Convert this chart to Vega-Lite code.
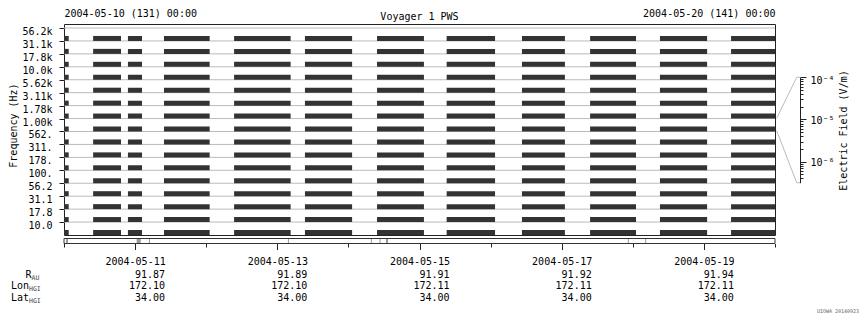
{
"$schema": "https://vega.github.io/schema/vega-lite/v6.json",
"width": 711, "height": 211,
"autosize": {"type": "none"},
"padding": {"left": 64, "top": 24, "right": 85, "bottom": 85},
"background": "white",
"config": {
 "font": "DejaVu Sans Mono",
 "view": {"stroke": "#222222", "strokeWidth": 1},
 "axis": {"labelFont": "DejaVu Sans Mono", "labelFontSize": 10, "labelColor": "#000000", "titleFont": "DejaVu Sans Mono", "titleFontSize": 10, "titleFontWeight": "normal", "titleColor": "#000000", "tickColor": "#222222", "domainColor": "#222222", "grid": false},
 "text": {"font": "DejaVu Sans Mono", "fontSize": 10, "color": "#000000"}
},
"title": {"text": "Voyager 1 PWS", "font": "DejaVu Sans Mono", "fontSize": 10, "fontWeight": "normal", "anchor": "middle", "frame": "group", "offset": -14, "color": "#000000"},
"datasets": {
 "channels": [{"ch":"56.2k"},{"ch":"31.1k"},{"ch":"17.8k"},{"ch":"10.0k"},{"ch":"5.62k"},{"ch":"3.11k"},{"ch":"1.78k"},{"ch":"1.00k"},{"ch":"562."},{"ch":"311."},{"ch":"178."},{"ch":"100."},{"ch":"56.2"},{"ch":"31.1"},{"ch":"17.8"},{"ch":"10.0"}],
 "bars": [
{"c":"56.2k","s":"2004-05-10T00:00Z","e":"2004-05-10T01:35Z"},{"c":"56.2k","s":"2004-05-10T09:50Z","e":"2004-05-10T19:15Z"},{"c":"56.2k","s":"2004-05-10T21:35Z","e":"2004-05-11T02:20Z"},{"c":"56.2k","s":"2004-05-11T09:45Z","e":"2004-05-12T01:10Z"},{"c":"56.2k","s":"2004-05-12T09:25Z","e":"2004-05-13T04:30Z"},{"c":"56.2k","s":"2004-05-13T09:20Z","e":"2004-05-14T01:15Z"},{"c":"56.2k","s":"2004-05-14T09:40Z","e":"2004-05-15T01:30Z"},{"c":"56.2k","s":"2004-05-15T09:10Z","e":"2004-05-16T01:30Z"},{"c":"56.2k","s":"2004-05-16T10:35Z","e":"2004-05-17T01:05Z"},{"c":"56.2k","s":"2004-05-17T09:35Z","e":"2004-05-18T01:05Z"},{"c":"56.2k","s":"2004-05-18T09:10Z","e":"2004-05-19T01:05Z"},{"c":"56.2k","s":"2004-05-19T09:10Z","e":"2004-05-20T00:00Z"},
{"c":"31.1k","s":"2004-05-10T00:00Z","e":"2004-05-10T01:35Z"},{"c":"31.1k","s":"2004-05-10T09:50Z","e":"2004-05-10T19:15Z"},{"c":"31.1k","s":"2004-05-10T21:35Z","e":"2004-05-11T02:20Z"},{"c":"31.1k","s":"2004-05-11T09:45Z","e":"2004-05-12T01:10Z"},{"c":"31.1k","s":"2004-05-12T09:25Z","e":"2004-05-13T04:30Z"},{"c":"31.1k","s":"2004-05-13T09:20Z","e":"2004-05-14T01:15Z"},{"c":"31.1k","s":"2004-05-14T09:40Z","e":"2004-05-15T01:30Z"},{"c":"31.1k","s":"2004-05-15T09:10Z","e":"2004-05-16T01:30Z"},{"c":"31.1k","s":"2004-05-16T10:35Z","e":"2004-05-17T01:05Z"},{"c":"31.1k","s":"2004-05-17T09:35Z","e":"2004-05-18T01:05Z"},{"c":"31.1k","s":"2004-05-18T09:10Z","e":"2004-05-19T01:05Z"},{"c":"31.1k","s":"2004-05-19T09:10Z","e":"2004-05-20T00:00Z"},
{"c":"17.8k","s":"2004-05-10T00:00Z","e":"2004-05-10T01:35Z"},{"c":"17.8k","s":"2004-05-10T09:50Z","e":"2004-05-10T19:15Z"},{"c":"17.8k","s":"2004-05-10T21:35Z","e":"2004-05-11T02:20Z"},{"c":"17.8k","s":"2004-05-11T09:45Z","e":"2004-05-12T01:10Z"},{"c":"17.8k","s":"2004-05-12T09:25Z","e":"2004-05-13T04:30Z"},{"c":"17.8k","s":"2004-05-13T09:20Z","e":"2004-05-14T01:15Z"},{"c":"17.8k","s":"2004-05-14T09:40Z","e":"2004-05-15T01:30Z"},{"c":"17.8k","s":"2004-05-15T09:10Z","e":"2004-05-16T01:30Z"},{"c":"17.8k","s":"2004-05-16T10:35Z","e":"2004-05-17T01:05Z"},{"c":"17.8k","s":"2004-05-17T09:35Z","e":"2004-05-18T01:05Z"},{"c":"17.8k","s":"2004-05-18T09:10Z","e":"2004-05-19T01:05Z"},{"c":"17.8k","s":"2004-05-19T09:10Z","e":"2004-05-20T00:00Z"},
{"c":"10.0k","s":"2004-05-10T00:00Z","e":"2004-05-10T01:35Z"},{"c":"10.0k","s":"2004-05-10T09:50Z","e":"2004-05-10T19:15Z"},{"c":"10.0k","s":"2004-05-10T21:35Z","e":"2004-05-11T02:20Z"},{"c":"10.0k","s":"2004-05-11T09:45Z","e":"2004-05-12T01:10Z"},{"c":"10.0k","s":"2004-05-12T09:25Z","e":"2004-05-13T04:30Z"},{"c":"10.0k","s":"2004-05-13T09:20Z","e":"2004-05-14T01:15Z"},{"c":"10.0k","s":"2004-05-14T09:40Z","e":"2004-05-15T01:30Z"},{"c":"10.0k","s":"2004-05-15T09:10Z","e":"2004-05-16T01:30Z"},{"c":"10.0k","s":"2004-05-16T10:35Z","e":"2004-05-17T01:05Z"},{"c":"10.0k","s":"2004-05-17T09:35Z","e":"2004-05-18T01:05Z"},{"c":"10.0k","s":"2004-05-18T09:10Z","e":"2004-05-19T01:05Z"},{"c":"10.0k","s":"2004-05-19T09:10Z","e":"2004-05-20T00:00Z"},
{"c":"5.62k","s":"2004-05-10T00:00Z","e":"2004-05-10T01:35Z"},{"c":"5.62k","s":"2004-05-10T09:50Z","e":"2004-05-10T19:15Z"},{"c":"5.62k","s":"2004-05-10T21:35Z","e":"2004-05-11T02:20Z"},{"c":"5.62k","s":"2004-05-11T09:45Z","e":"2004-05-12T01:10Z"},{"c":"5.62k","s":"2004-05-12T09:25Z","e":"2004-05-13T04:30Z"},{"c":"5.62k","s":"2004-05-13T09:20Z","e":"2004-05-14T01:15Z"},{"c":"5.62k","s":"2004-05-14T09:40Z","e":"2004-05-15T01:30Z"},{"c":"5.62k","s":"2004-05-15T09:10Z","e":"2004-05-16T01:30Z"},{"c":"5.62k","s":"2004-05-16T10:35Z","e":"2004-05-17T01:05Z"},{"c":"5.62k","s":"2004-05-17T09:35Z","e":"2004-05-18T01:05Z"},{"c":"5.62k","s":"2004-05-18T09:10Z","e":"2004-05-19T01:05Z"},{"c":"5.62k","s":"2004-05-19T09:10Z","e":"2004-05-20T00:00Z"},
{"c":"3.11k","s":"2004-05-10T00:00Z","e":"2004-05-10T01:35Z"},{"c":"3.11k","s":"2004-05-10T09:50Z","e":"2004-05-10T19:15Z"},{"c":"3.11k","s":"2004-05-10T21:35Z","e":"2004-05-11T02:20Z"},{"c":"3.11k","s":"2004-05-11T09:45Z","e":"2004-05-12T01:10Z"},{"c":"3.11k","s":"2004-05-12T09:25Z","e":"2004-05-13T04:30Z"},{"c":"3.11k","s":"2004-05-13T09:20Z","e":"2004-05-14T01:15Z"},{"c":"3.11k","s":"2004-05-14T09:40Z","e":"2004-05-15T01:30Z"},{"c":"3.11k","s":"2004-05-15T09:10Z","e":"2004-05-16T01:30Z"},{"c":"3.11k","s":"2004-05-16T10:35Z","e":"2004-05-17T01:05Z"},{"c":"3.11k","s":"2004-05-17T09:35Z","e":"2004-05-18T01:05Z"},{"c":"3.11k","s":"2004-05-18T09:10Z","e":"2004-05-19T01:05Z"},{"c":"3.11k","s":"2004-05-19T09:10Z","e":"2004-05-20T00:00Z"},
{"c":"1.78k","s":"2004-05-10T00:00Z","e":"2004-05-10T01:35Z"},{"c":"1.78k","s":"2004-05-10T09:50Z","e":"2004-05-10T19:15Z"},{"c":"1.78k","s":"2004-05-10T21:35Z","e":"2004-05-11T02:20Z"},{"c":"1.78k","s":"2004-05-11T09:45Z","e":"2004-05-12T01:10Z"},{"c":"1.78k","s":"2004-05-12T09:25Z","e":"2004-05-13T04:30Z"},{"c":"1.78k","s":"2004-05-13T09:20Z","e":"2004-05-14T01:15Z"},{"c":"1.78k","s":"2004-05-14T09:40Z","e":"2004-05-15T01:30Z"},{"c":"1.78k","s":"2004-05-15T09:10Z","e":"2004-05-16T01:30Z"},{"c":"1.78k","s":"2004-05-16T10:35Z","e":"2004-05-17T01:05Z"},{"c":"1.78k","s":"2004-05-17T09:35Z","e":"2004-05-18T01:05Z"},{"c":"1.78k","s":"2004-05-18T09:10Z","e":"2004-05-19T01:05Z"},{"c":"1.78k","s":"2004-05-19T09:10Z","e":"2004-05-20T00:00Z"},
{"c":"1.00k","s":"2004-05-10T00:00Z","e":"2004-05-10T01:35Z"},{"c":"1.00k","s":"2004-05-10T09:50Z","e":"2004-05-10T19:15Z"},{"c":"1.00k","s":"2004-05-10T21:35Z","e":"2004-05-11T02:20Z"},{"c":"1.00k","s":"2004-05-11T09:45Z","e":"2004-05-12T01:10Z"},{"c":"1.00k","s":"2004-05-12T09:25Z","e":"2004-05-13T04:30Z"},{"c":"1.00k","s":"2004-05-13T09:20Z","e":"2004-05-14T01:15Z"},{"c":"1.00k","s":"2004-05-14T09:40Z","e":"2004-05-15T01:30Z"},{"c":"1.00k","s":"2004-05-15T09:10Z","e":"2004-05-16T01:30Z"},{"c":"1.00k","s":"2004-05-16T10:35Z","e":"2004-05-17T01:05Z"},{"c":"1.00k","s":"2004-05-17T09:35Z","e":"2004-05-18T01:05Z"},{"c":"1.00k","s":"2004-05-18T09:10Z","e":"2004-05-19T01:05Z"},{"c":"1.00k","s":"2004-05-19T09:10Z","e":"2004-05-20T00:00Z"},
{"c":"562.","s":"2004-05-10T00:00Z","e":"2004-05-10T01:35Z"},{"c":"562.","s":"2004-05-10T09:50Z","e":"2004-05-10T19:15Z"},{"c":"562.","s":"2004-05-10T21:35Z","e":"2004-05-11T02:20Z"},{"c":"562.","s":"2004-05-11T09:45Z","e":"2004-05-12T01:10Z"},{"c":"562.","s":"2004-05-12T09:25Z","e":"2004-05-13T04:30Z"},{"c":"562.","s":"2004-05-13T09:20Z","e":"2004-05-14T01:15Z"},{"c":"562.","s":"2004-05-14T09:40Z","e":"2004-05-15T01:30Z"},{"c":"562.","s":"2004-05-15T09:10Z","e":"2004-05-16T01:30Z"},{"c":"562.","s":"2004-05-16T10:35Z","e":"2004-05-17T01:05Z"},{"c":"562.","s":"2004-05-17T09:35Z","e":"2004-05-18T01:05Z"},{"c":"562.","s":"2004-05-18T09:10Z","e":"2004-05-19T01:05Z"},{"c":"562.","s":"2004-05-19T09:10Z","e":"2004-05-20T00:00Z"},
{"c":"311.","s":"2004-05-10T00:00Z","e":"2004-05-10T01:35Z"},{"c":"311.","s":"2004-05-10T09:50Z","e":"2004-05-10T19:15Z"},{"c":"311.","s":"2004-05-10T21:35Z","e":"2004-05-11T02:20Z"},{"c":"311.","s":"2004-05-11T09:45Z","e":"2004-05-12T01:10Z"},{"c":"311.","s":"2004-05-12T09:25Z","e":"2004-05-13T04:30Z"},{"c":"311.","s":"2004-05-13T09:20Z","e":"2004-05-14T01:15Z"},{"c":"311.","s":"2004-05-14T09:40Z","e":"2004-05-15T01:30Z"},{"c":"311.","s":"2004-05-15T09:10Z","e":"2004-05-16T01:30Z"},{"c":"311.","s":"2004-05-16T10:35Z","e":"2004-05-17T01:05Z"},{"c":"311.","s":"2004-05-17T09:35Z","e":"2004-05-18T01:05Z"},{"c":"311.","s":"2004-05-18T09:10Z","e":"2004-05-19T01:05Z"},{"c":"311.","s":"2004-05-19T09:10Z","e":"2004-05-20T00:00Z"},
{"c":"178.","s":"2004-05-10T00:00Z","e":"2004-05-10T01:35Z"},{"c":"178.","s":"2004-05-10T09:50Z","e":"2004-05-10T19:15Z"},{"c":"178.","s":"2004-05-10T21:35Z","e":"2004-05-11T02:20Z"},{"c":"178.","s":"2004-05-11T09:45Z","e":"2004-05-12T01:10Z"},{"c":"178.","s":"2004-05-12T09:25Z","e":"2004-05-13T04:30Z"},{"c":"178.","s":"2004-05-13T09:20Z","e":"2004-05-14T01:15Z"},{"c":"178.","s":"2004-05-14T09:40Z","e":"2004-05-15T01:30Z"},{"c":"178.","s":"2004-05-15T09:10Z","e":"2004-05-16T01:30Z"},{"c":"178.","s":"2004-05-16T10:35Z","e":"2004-05-17T01:05Z"},{"c":"178.","s":"2004-05-17T09:35Z","e":"2004-05-18T01:05Z"},{"c":"178.","s":"2004-05-18T09:10Z","e":"2004-05-19T01:05Z"},{"c":"178.","s":"2004-05-19T09:10Z","e":"2004-05-20T00:00Z"},
{"c":"100.","s":"2004-05-10T00:00Z","e":"2004-05-10T01:35Z"},{"c":"100.","s":"2004-05-10T09:50Z","e":"2004-05-10T19:15Z"},{"c":"100.","s":"2004-05-10T21:35Z","e":"2004-05-11T02:20Z"},{"c":"100.","s":"2004-05-11T09:45Z","e":"2004-05-12T01:10Z"},{"c":"100.","s":"2004-05-12T09:25Z","e":"2004-05-13T04:30Z"},{"c":"100.","s":"2004-05-13T09:20Z","e":"2004-05-14T01:15Z"},{"c":"100.","s":"2004-05-14T09:40Z","e":"2004-05-15T01:30Z"},{"c":"100.","s":"2004-05-15T09:10Z","e":"2004-05-16T01:30Z"},{"c":"100.","s":"2004-05-16T10:35Z","e":"2004-05-17T01:05Z"},{"c":"100.","s":"2004-05-17T09:35Z","e":"2004-05-18T01:05Z"},{"c":"100.","s":"2004-05-18T09:10Z","e":"2004-05-19T01:05Z"},{"c":"100.","s":"2004-05-19T09:10Z","e":"2004-05-20T00:00Z"},
{"c":"56.2","s":"2004-05-10T00:00Z","e":"2004-05-10T01:35Z"},{"c":"56.2","s":"2004-05-10T09:50Z","e":"2004-05-10T19:15Z"},{"c":"56.2","s":"2004-05-10T21:35Z","e":"2004-05-11T02:20Z"},{"c":"56.2","s":"2004-05-11T09:45Z","e":"2004-05-12T01:10Z"},{"c":"56.2","s":"2004-05-12T09:25Z","e":"2004-05-13T04:30Z"},{"c":"56.2","s":"2004-05-13T09:20Z","e":"2004-05-14T01:15Z"},{"c":"56.2","s":"2004-05-14T09:40Z","e":"2004-05-15T01:30Z"},{"c":"56.2","s":"2004-05-15T09:10Z","e":"2004-05-16T01:30Z"},{"c":"56.2","s":"2004-05-16T10:35Z","e":"2004-05-17T01:05Z"},{"c":"56.2","s":"2004-05-17T09:35Z","e":"2004-05-18T01:05Z"},{"c":"56.2","s":"2004-05-18T09:10Z","e":"2004-05-19T01:05Z"},{"c":"56.2","s":"2004-05-19T09:10Z","e":"2004-05-20T00:00Z"},
{"c":"31.1","s":"2004-05-10T00:00Z","e":"2004-05-10T01:35Z"},{"c":"31.1","s":"2004-05-10T09:50Z","e":"2004-05-10T19:15Z"},{"c":"31.1","s":"2004-05-10T21:35Z","e":"2004-05-11T02:20Z"},{"c":"31.1","s":"2004-05-11T09:45Z","e":"2004-05-12T01:10Z"},{"c":"31.1","s":"2004-05-12T09:25Z","e":"2004-05-13T04:30Z"},{"c":"31.1","s":"2004-05-13T09:20Z","e":"2004-05-14T01:15Z"},{"c":"31.1","s":"2004-05-14T09:40Z","e":"2004-05-15T01:30Z"},{"c":"31.1","s":"2004-05-15T09:10Z","e":"2004-05-16T01:30Z"},{"c":"31.1","s":"2004-05-16T10:35Z","e":"2004-05-17T01:05Z"},{"c":"31.1","s":"2004-05-17T09:35Z","e":"2004-05-18T01:05Z"},{"c":"31.1","s":"2004-05-18T09:10Z","e":"2004-05-19T01:05Z"},{"c":"31.1","s":"2004-05-19T09:10Z","e":"2004-05-20T00:00Z"},
{"c":"17.8","s":"2004-05-10T00:00Z","e":"2004-05-10T01:35Z"},{"c":"17.8","s":"2004-05-10T09:50Z","e":"2004-05-10T19:15Z"},{"c":"17.8","s":"2004-05-10T21:35Z","e":"2004-05-11T02:20Z"},{"c":"17.8","s":"2004-05-11T09:45Z","e":"2004-05-12T01:10Z"},{"c":"17.8","s":"2004-05-12T09:25Z","e":"2004-05-13T04:30Z"},{"c":"17.8","s":"2004-05-13T09:20Z","e":"2004-05-14T01:15Z"},{"c":"17.8","s":"2004-05-14T09:40Z","e":"2004-05-15T01:30Z"},{"c":"17.8","s":"2004-05-15T09:10Z","e":"2004-05-16T01:30Z"},{"c":"17.8","s":"2004-05-16T10:35Z","e":"2004-05-17T01:05Z"},{"c":"17.8","s":"2004-05-17T09:35Z","e":"2004-05-18T01:05Z"},{"c":"17.8","s":"2004-05-18T09:10Z","e":"2004-05-19T01:05Z"},{"c":"17.8","s":"2004-05-19T09:10Z","e":"2004-05-20T00:00Z"},
{"c":"10.0","s":"2004-05-10T00:00Z","e":"2004-05-10T01:35Z"},{"c":"10.0","s":"2004-05-10T09:50Z","e":"2004-05-10T19:15Z"},{"c":"10.0","s":"2004-05-10T21:35Z","e":"2004-05-11T02:20Z"},{"c":"10.0","s":"2004-05-11T09:45Z","e":"2004-05-12T01:10Z"},{"c":"10.0","s":"2004-05-12T09:25Z","e":"2004-05-13T04:30Z"},{"c":"10.0","s":"2004-05-13T09:20Z","e":"2004-05-14T01:15Z"},{"c":"10.0","s":"2004-05-14T09:40Z","e":"2004-05-15T01:30Z"},{"c":"10.0","s":"2004-05-15T09:10Z","e":"2004-05-16T01:30Z"},{"c":"10.0","s":"2004-05-16T10:35Z","e":"2004-05-17T01:05Z"},{"c":"10.0","s":"2004-05-17T09:35Z","e":"2004-05-18T01:05Z"},{"c":"10.0","s":"2004-05-18T09:10Z","e":"2004-05-19T01:05Z"},{"c":"10.0","s":"2004-05-19T09:10Z","e":"2004-05-20T00:00Z"}
 ],
 "strip": [{"lane":"coverage","s":"2004-05-10T00:00Z","e":"2004-05-20T00:00Z"}],
 "marks": [
{"lane":"coverage","s":"2004-05-10T00:40Z","e":"2004-05-10T01:20Z"},
{"lane":"coverage","s":"2004-05-11T00:32Z","e":"2004-05-11T01:54Z"},
{"lane":"coverage","s":"2004-05-11T04:40Z","e":"2004-05-11T05:00Z"},
{"lane":"coverage","s":"2004-05-13T03:35Z","e":"2004-05-13T03:55Z"},
{"lane":"coverage","s":"2004-05-14T07:35Z","e":"2004-05-14T07:55Z"},
{"lane":"coverage","s":"2004-05-14T10:30Z","e":"2004-05-14T10:50Z"},
{"lane":"coverage","s":"2004-05-14T12:41Z","e":"2004-05-14T13:22Z"},
{"lane":"coverage","s":"2004-05-17T22:20Z","e":"2004-05-17T22:40Z"},
{"lane":"coverage","s":"2004-05-18T04:10Z","e":"2004-05-18T04:30Z"}
 ],
 "connectors": [
{"id":"upper","t":"2004-05-20T00:34Z","E":1.065e-5},{"id":"upper","t":"2004-05-20T07:19Z","E":1e-4},{"id":"upper","t":"2004-05-20T08:26Z","E":1e-4},
{"id":"lower","t":"2004-05-20T00:34Z","E":5.41e-6},{"id":"lower","t":"2004-05-20T07:19Z","E":3.162e-7},{"id":"lower","t":"2004-05-20T08:26Z","E":3.162e-7}
 ],
 "ephem": [
{"t":"2004-05-11T00:00Z","param":"R","v":91.87},{"t":"2004-05-11T00:00Z","param":"Lon","v":172.10},{"t":"2004-05-11T00:00Z","param":"Lat","v":34.00},
{"t":"2004-05-13T00:00Z","param":"R","v":91.89},{"t":"2004-05-13T00:00Z","param":"Lon","v":172.10},{"t":"2004-05-13T00:00Z","param":"Lat","v":34.00},
{"t":"2004-05-15T00:00Z","param":"R","v":91.91},{"t":"2004-05-15T00:00Z","param":"Lon","v":172.11},{"t":"2004-05-15T00:00Z","param":"Lat","v":34.00},
{"t":"2004-05-17T00:00Z","param":"R","v":91.92},{"t":"2004-05-17T00:00Z","param":"Lon","v":172.11},{"t":"2004-05-17T00:00Z","param":"Lat","v":34.00},
{"t":"2004-05-19T00:00Z","param":"R","v":91.94},{"t":"2004-05-19T00:00Z","param":"Lon","v":172.11},{"t":"2004-05-19T00:00Z","param":"Lat","v":34.00}
 ],
 "params": [{"param":"R","sub":"AU"},{"param":"Lon","sub":"HGI"},{"param":"Lat","sub":"HGI"}],
 "note": [{"param":"Lat","text":"UIOWA 20140923"}]
},
"resolve": {"scale": {"y": "independent"}, "axis": {"x": "independent", "y": "independent"}},
"layer": [
 {"data": {"name": "channels"},
  "mark": {"type": "rule", "color": "#bbbbbb", "strokeWidth": 1},
  "encoding": {
   "y": {"field": "ch", "type": "nominal",
    "scale": {"type": "point", "domain": ["56.2k","31.1k","17.8k","10.0k","5.62k","3.11k","1.78k","1.00k","562.","311.","178.","100.","56.2","31.1","17.8","10.0"], "range": [4, 198.06], "padding": 0},
    "axis": {"orient": "left", "title": "Frequency (Hz)", "domain": false, "ticks": true, "tickSize": 5, "labelPadding": 7, "labelOffset": 3.5, "titlePadding": 3, "labelAlign": "right", "labelBaseline": "middle"}}
  }},
 {"data": {"name": "bars"},
  "mark": {"type": "bar", "color": "#333333", "height": 5, "yOffset": 10.44, "clip": false},
  "encoding": {
   "x": {"field": "s", "type": "temporal",
    "scale": {"type": "utc", "nice": false, "domain": [{"year":2004,"month":5,"date":10,"utc":true},{"year":2004,"month":5,"date":20,"utc":true}]},
    "axis": {"orient": "top", "title": null, "ticks": false, "domain": false, "labelFlush": true, "labelOverlap": false, "labelPadding": 6,
     "values": [{"year":2004,"month":5,"date":10,"utc":true},{"year":2004,"month":5,"date":20,"utc":true}],
     "labelExpr": "utcFormat(datum.value, '%Y-%m-%d (%j) %H:%M')"}},
   "x2": {"field": "e"},
   "y": {"field": "c", "type": "nominal",
    "scale": {"type": "point", "domain": ["56.2k","31.1k","17.8k","10.0k","5.62k","3.11k","1.78k","1.00k","562.","311.","178.","100.","56.2","31.1","17.8","10.0"], "range": [4, 198.06], "padding": 0},
    "axis": null}
  }},
 {"data": {"name": "strip"},
  "mark": {"type": "rect", "fill": "#ffffff", "stroke": "#333333", "strokeWidth": 1, "clip": false},
  "encoding": {
   "x": {"field": "s", "type": "temporal",
    "scale": {"type": "utc", "nice": false, "domain": [{"year":2004,"month":5,"date":10,"utc":true},{"year":2004,"month":5,"date":20,"utc":true}]},
    "axis": {"orient": "bottom", "title": null, "offset": 8.5, "domain": false, "labelOverlap": false, "labelFlush": false, "labelPadding": 7,
     "values": [{"year":2004,"month":5,"date":10,"utc":true},{"year":2004,"month":5,"date":11,"utc":true},{"year":2004,"month":5,"date":12,"utc":true},{"year":2004,"month":5,"date":13,"utc":true},{"year":2004,"month":5,"date":14,"utc":true},{"year":2004,"month":5,"date":15,"utc":true},{"year":2004,"month":5,"date":16,"utc":true},{"year":2004,"month":5,"date":17,"utc":true},{"year":2004,"month":5,"date":18,"utc":true},{"year":2004,"month":5,"date":19,"utc":true},{"year":2004,"month":5,"date":20,"utc":true}],
     "tickSize": {"condition": {"test": "utcdate(datum.value) % 2 == 1", "value": 6}, "value": 3.5},
     "labelExpr": "utcdate(datum.value) % 2 == 1 ? utcFormat(datum.value, '%Y-%m-%d') : ''"}},
   "x2": {"field": "e"},
   "y": {"field": "lane", "type": "nominal", "scale": {"type": "band", "domain": ["coverage"], "range": [214.5, 219.5], "paddingInner": 0, "paddingOuter": 0}, "axis": null}
  }},
 {"data": {"name": "marks"},
  "mark": {"type": "rect", "fill": "#999999", "clip": false},
  "encoding": {
   "x": {"field": "s", "type": "temporal", "scale": {"type": "utc", "nice": false, "domain": [{"year":2004,"month":5,"date":10,"utc":true},{"year":2004,"month":5,"date":20,"utc":true}]}, "axis": null},
   "x2": {"field": "e"},
   "y": {"field": "lane", "type": "nominal", "scale": {"type": "band", "domain": ["coverage"], "range": [215, 219], "paddingInner": 0, "paddingOuter": 0}, "axis": null}
  }},
 {"data": {"name": "connectors"},
  "mark": {"type": "line", "color": "#bbbbbb", "strokeWidth": 1, "clip": false},
  "encoding": {
   "x": {"field": "t", "type": "temporal", "scale": {"type": "utc", "nice": false, "domain": [{"year":2004,"month":5,"date":10,"utc":true},{"year":2004,"month":5,"date":20,"utc":true}]}, "axis": null},
   "y": {"field": "E", "type": "quantitative",
    "scale": {"type": "log", "domain": [3.162e-7, 1e-4], "range": [158.7, 53.3], "nice": false, "zero": false},
    "axis": {"orient": "right", "offset": 25, "title": "Electric Field (V/m)", "titleAngle": 270, "titlePadding": 14, "domain": true, "labelPadding": 4, "labelFlush": false, "labelOverlap": false, "labelBaseline": "middle",
     "values": [4e-7,5e-7,6e-7,7e-7,8e-7,9e-7,1e-6,2e-6,3e-6,4e-6,5e-6,6e-6,7e-6,8e-6,9e-6,1e-5,2e-5,3e-5,4e-5,5e-5,6e-5,7e-5,8e-5,9e-5,1e-4],
     "tickSize": {"condition": {"test": "abs(log(datum.value)/LN10 - round(log(datum.value)/LN10)) < 0.001", "value": 6}, "value": 3},
     "labelOffset": {"condition": {"test": "datum.value > 9.5e-5", "value": 3}, "value": 1},
     "labelExpr": "datum.value > 9.5e-5 ? '10⁻⁴' : (abs(datum.value - 1e-5) < 1e-9 ? '10⁻⁵' : (abs(datum.value - 1e-6) < 1e-10 ? '10⁻⁶' : ''))"}},
   "detail": {"field": "id"}
  }},
 {"data": {"name": "ephem"},
  "mark": {"type": "text", "align": "right", "baseline": "middle", "dx": 30, "clip": false},
  "encoding": {
   "x": {"field": "t", "type": "temporal", "scale": {"type": "utc", "nice": false, "domain": [{"year":2004,"month":5,"date":10,"utc":true},{"year":2004,"month":5,"date":20,"utc":true}]}, "axis": null},
   "y": {"field": "param", "type": "nominal", "scale": {"type": "point", "domain": ["R","Lon","Lat"], "range": [250.5, 273.5], "padding": 0}, "axis": null},
   "text": {"field": "v", "type": "quantitative", "format": ".2f"}
  }},
 {"data": {"name": "params"},
  "transform": [{"filter": "datum.param == 'R'"}],
  "mark": {"type": "text", "align": "right", "baseline": "middle", "dx": -32.4, "clip": false},
  "encoding": {
   "x": {"datum": {"year":2004,"month":5,"date":10,"utc":true}, "type": "temporal", "scale": {"type": "utc", "nice": false, "domain": [{"year":2004,"month":5,"date":10,"utc":true},{"year":2004,"month":5,"date":20,"utc":true}]}, "axis": null},
   "y": {"field": "param", "type": "nominal", "scale": {"type": "point", "domain": ["R","Lon","Lat"], "range": [250.5, 273.5], "padding": 0}, "axis": null},
   "text": {"field": "param"}
  }},
 {"data": {"name": "params"},
  "transform": [{"filter": "datum.param == 'R'"}],
  "mark": {"type": "text", "align": "left", "baseline": "middle", "dx": -32.4, "dy": 3, "fontSize": 6.5, "color": "#444444", "clip": false},
  "encoding": {
   "x": {"datum": {"year":2004,"month":5,"date":10,"utc":true}, "type": "temporal", "scale": {"type": "utc", "nice": false, "domain": [{"year":2004,"month":5,"date":10,"utc":true},{"year":2004,"month":5,"date":20,"utc":true}]}, "axis": null},
   "y": {"field": "param", "type": "nominal", "scale": {"type": "point", "domain": ["R","Lon","Lat"], "range": [250.5, 273.5], "padding": 0}, "axis": null},
   "text": {"field": "sub"}
  }},
 {"data": {"name": "params"},
  "transform": [{"filter": "datum.param != 'R'"}],
  "mark": {"type": "text", "align": "right", "baseline": "middle", "dx": -35, "clip": false},
  "encoding": {
   "x": {"datum": {"year":2004,"month":5,"date":10,"utc":true}, "type": "temporal", "scale": {"type": "utc", "nice": false, "domain": [{"year":2004,"month":5,"date":10,"utc":true},{"year":2004,"month":5,"date":20,"utc":true}]}, "axis": null},
   "y": {"field": "param", "type": "nominal", "scale": {"type": "point", "domain": ["R","Lon","Lat"], "range": [250.5, 273.5], "padding": 0}, "axis": null},
   "text": {"field": "param"}
  }},
 {"data": {"name": "params"},
  "transform": [{"filter": "datum.param != 'R'"}],
  "mark": {"type": "text", "align": "left", "baseline": "middle", "dx": -35, "dy": 3, "fontSize": 6.5, "color": "#444444", "clip": false},
  "encoding": {
   "x": {"datum": {"year":2004,"month":5,"date":10,"utc":true}, "type": "temporal", "scale": {"type": "utc", "nice": false, "domain": [{"year":2004,"month":5,"date":10,"utc":true},{"year":2004,"month":5,"date":20,"utc":true}]}, "axis": null},
   "y": {"field": "param", "type": "nominal", "scale": {"type": "point", "domain": ["R","Lon","Lat"], "range": [250.5, 273.5], "padding": 0}, "axis": null},
   "text": {"field": "sub"}
  }},
 {"data": {"name": "note"},
  "mark": {"type": "text", "align": "center", "baseline": "middle", "dx": 63, "dy": 13.5, "fontSize": 5, "color": "#666666", "clip": false},
  "encoding": {
   "x": {"datum": {"year":2004,"month":5,"date":20,"utc":true}, "type": "temporal", "scale": {"type": "utc", "nice": false, "domain": [{"year":2004,"month":5,"date":10,"utc":true},{"year":2004,"month":5,"date":20,"utc":true}]}, "axis": null},
   "y": {"field": "param", "type": "nominal", "scale": {"type": "point", "domain": ["R","Lon","Lat"], "range": [250.5, 273.5], "padding": 0}, "axis": null},
   "text": {"field": "text"}
  }}
]
}
